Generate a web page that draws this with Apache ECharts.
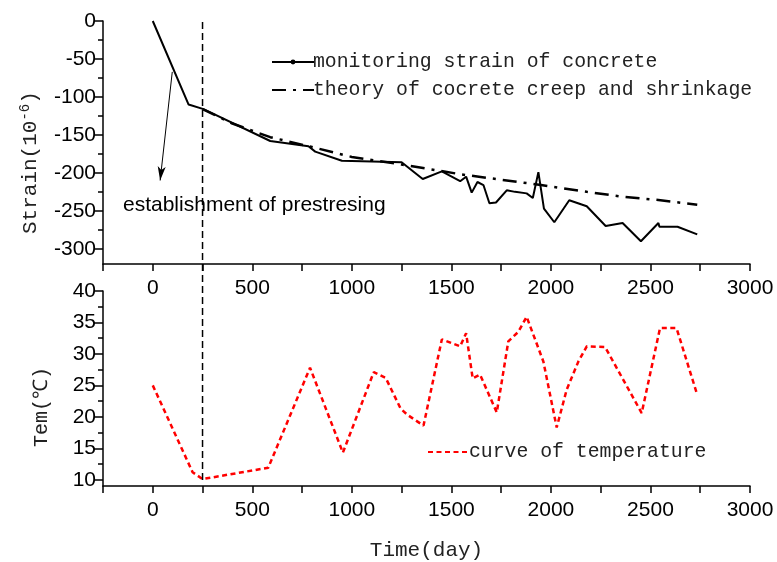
<!DOCTYPE html>
<html>
<head>
<meta charset="utf-8">
<script src="https://cdn.jsdelivr.net/npm/echarts@6/dist/echarts.min.js"></script>
<style>html,body{margin:0;padding:0;background:#fff}#c{width:777px;height:562px}</style>
</head>
<body>
<div id="c"></div>
<script>
// ---- data ----
const monitorDays   = [0, 180, 255, 590, 782, 816, 950, 1250, 1356, 1452, 1544, 1574, 1602, 1631, 1661, 1691, 1724, 1778, 1820, 1878, 1909, 1937, 1965, 2017, 2092, 2180, 2275, 2360, 2452, 2540, 2545, 2636, 2735];
const monitorStrain = [0, -110, -116, -158, -165, -172, -184, -186, -208, -198, -211, -205, -226, -212, -216, -240, -239, -223, -225, -227, -233, -199, -247, -265, -236, -244, -270, -266, -290, -266, -271, -271, -281];
const theoryDays    = [250, 400, 590, 800, 1000, 1250, 1550, 1950, 2180, 2350, 2550, 2735];
const theoryStrain  = [-116, -135, -153, -166, -179, -189, -202, -216, -225, -231, -236, -242];
const tempDays      = [0, 200, 250, 580, 790, 955, 1110, 1170, 1245, 1280, 1360, 1452, 1544, 1574, 1607, 1644, 1728, 1786, 1836, 1878, 1962, 2029, 2079, 2138, 2180, 2272, 2456, 2548, 2631, 2735];
const tempValues    = [25, 11.2, 10.1, 11.9, 27.8, 14.3, 27.1, 26.2, 21.3, 20.3, 18.6, 32.3, 31.2, 33.3, 26.1, 26.7, 20.7, 32.0, 33.5, 35.9, 28.8, 18.3, 24.3, 28.8, 31.2, 31.1, 20.6, 34.1, 34.1, 23.5];
const prestressDay  = 250;
const arrowFrom     = [98, -67];
const arrowTo       = [37, -210];
// ---- tick labels / tick marks ----
const xTickLabels   = [0, 500, 1000, 1500, 2000, 2500, 3000];
const xTickMarks    = [-250, 0, 250, 500, 750, 1000, 1250, 1500, 1750, 2000, 2250, 2500, 2750, 3000];
const strainMajor   = [0, -50, -100, -150, -200, -250, -300];
const strainMinor   = [-25, -75, -125, -175, -225, -275];
const tempMajor     = [10, 15, 20, 25, 30, 35, 40];
const tempMinor     = [12.5, 17.5, 22.5, 27.5, 32.5, 37.5];
const names = {
  monitor: 'monitoring strain of concrete',
  theory: 'theory of cocrete creep and shrinkage',
  temp: 'curve of temperature'
};

const zip = (a, b) => a.map((v, i) => [v, b[i]]);
const SANS = 'Liberation Sans, Arial, sans-serif';
const MONO = 'Liberation Mono, monospace';
const AX = { color: '#000', width: 1.5 };
const plain = v => String(v);

function xAxisCfg(grid, extra) {
  return Object.assign({
    gridIndex: grid, type: 'value', min: -250, max: 3000,
    axisLine: { show: true, onZero: false, lineStyle: AX },
    axisTick: { show: true, inside: false, length: 7, lineStyle: AX, customValues: xTickMarks },
    axisLabel: { margin: 14, fontFamily: SANS, fontSize: 21, color: '#000', customValues: xTickLabels, formatter: plain },
    splitLine: { show: false }
  }, extra || {});
}
function yMajor(grid, min, max, ticks) {
  return {
    gridIndex: grid, type: 'value', min: min, max: max, position: 'left',
    axisLine: { show: true, onZero: false, lineStyle: AX },
    axisTick: { show: true, inside: false, length: 9, lineStyle: AX, customValues: ticks },
    axisLabel: { margin: 7, fontFamily: SANS, fontSize: 21, color: '#000', customValues: ticks, formatter: plain },
    splitLine: { show: false }
  };
}
function yMinor(grid, min, max, ticks) {
  return {
    gridIndex: grid, type: 'value', min: min, max: max, position: 'left', offset: 0,
    axisLine: { show: false, onZero: false },
    axisTick: { show: true, inside: false, length: 5, lineStyle: AX, customValues: ticks },
    axisLabel: { show: false },
    splitLine: { show: false }
  };
}

const chart = echarts.init(document.getElementById('c'), null, { renderer: 'canvas' });
chart.setOption({
  animation: false,
  backgroundColor: '#fff',
  grid: [
    { left: 103, right: 27, top: 21, height: 243 },
    { left: 103, right: 27, top: 291, height: 195 },
    { left: 103, right: 27, top: 19, height: 461 }
  ],
  xAxis: [
    xAxisCfg(0),
    xAxisCfg(1, { name: 'Time(day)', nameLocation: 'middle', nameGap: 54,
      nameTextStyle: { fontFamily: MONO, fontSize: 21, color: '#222' } }),
    { gridIndex: 2, type: 'value', min: -250, max: 3000, show: false }
  ],
  yAxis: [
    yMajor(0, -320, 0, strainMajor),
    yMajor(1, 9, 40, tempMajor),
    { gridIndex: 2, type: 'value', min: 0, max: 1, show: false },
    yMinor(0, -320, 0, strainMinor),
    yMinor(1, 9, 40, tempMinor)
  ],
  legend: [
    { data: [
        { name: names.monitor },
        { name: names.theory, itemStyle: { opacity: 0 } }
      ],
      orient: 'vertical', left: 266, top: 47,
      itemWidth: 42, itemHeight: 6, itemGap: 8, selectedMode: false,
      textStyle: { fontFamily: MONO, fontSize: 19.8, lineHeight: 20, color: '#222', padding: [0, 0, 0, -6] } },
    { data: [{ name: names.temp, itemStyle: { opacity: 0 } }],
      orient: 'vertical', left: 422, top: 437,
      itemWidth: 42, itemHeight: 6, selectedMode: false,
      textStyle: { fontFamily: MONO, fontSize: 19.8, lineHeight: 20, color: '#222', padding: [0, 0, 0, -6] } }
  ],
  series: [
    { name: names.monitor, type: 'line', xAxisIndex: 0, yAxisIndex: 0,
      data: zip(monitorDays, monitorStrain), symbol: 'circle', symbolSize: 4, showSymbol: false,
      itemStyle: { color: '#000' }, lineStyle: { color: '#000', width: 2 }, z: 3,
      markLine: { silent: true, symbol: ['none', 'arrow'], symbolSize: [6, 14],
        label: { show: false }, lineStyle: { color: '#000', width: 1, type: 'solid' },
        data: [[{ coord: arrowFrom }, { coord: arrowTo }]] } },
    { name: names.theory, type: 'line', xAxisIndex: 0, yAxisIndex: 0,
      data: zip(theoryDays, theoryStrain), symbol: 'none',
      itemStyle: { color: '#000' }, lineStyle: { color: '#000', width: 2.5, type: [14, 7, 3, 7] } },
    { name: names.temp, type: 'line', xAxisIndex: 1, yAxisIndex: 1,
      data: zip(tempDays, tempValues), symbol: 'none',
      itemStyle: { color: '#ff0000' }, lineStyle: { color: '#ff0000', width: 2.5, type: [5, 3.5] } },
    { name: 'prestress', type: 'line', xAxisIndex: 2, yAxisIndex: 2, silent: true,
      data: [[prestressDay, 0], [prestressDay, 1]], symbol: 'none',
      lineStyle: { color: '#000', width: 1.5, type: [7, 4] } }
  ],
  graphic: [
    { type: 'text', x: 30, y: 234, rotation: Math.PI / 2,
      style: { text: 'Strain(10{sup|-6})', fontFamily: MONO, fontSize: 21, fill: '#222',
        align: 'left', verticalAlign: 'middle',
        rich: { sup: { fontFamily: MONO, fontSize: 14, verticalAlign: 'top', padding: [0, 0, 10, 0] } } } },
    { type: 'text', x: 42, y: 447, rotation: Math.PI / 2,
      style: { text: 'Tem(℃)', fontFamily: MONO, fontSize: 20, fill: '#222',
        align: 'left', verticalAlign: 'middle' } },
    { type: 'text', x: 123, y: 205,
      style: { text: 'establishment of prestresing', fontFamily: SANS, fontSize: 21, fill: '#000',
        align: 'left', verticalAlign: 'middle' } }
  ]
});
</script>
</body>
</html>
